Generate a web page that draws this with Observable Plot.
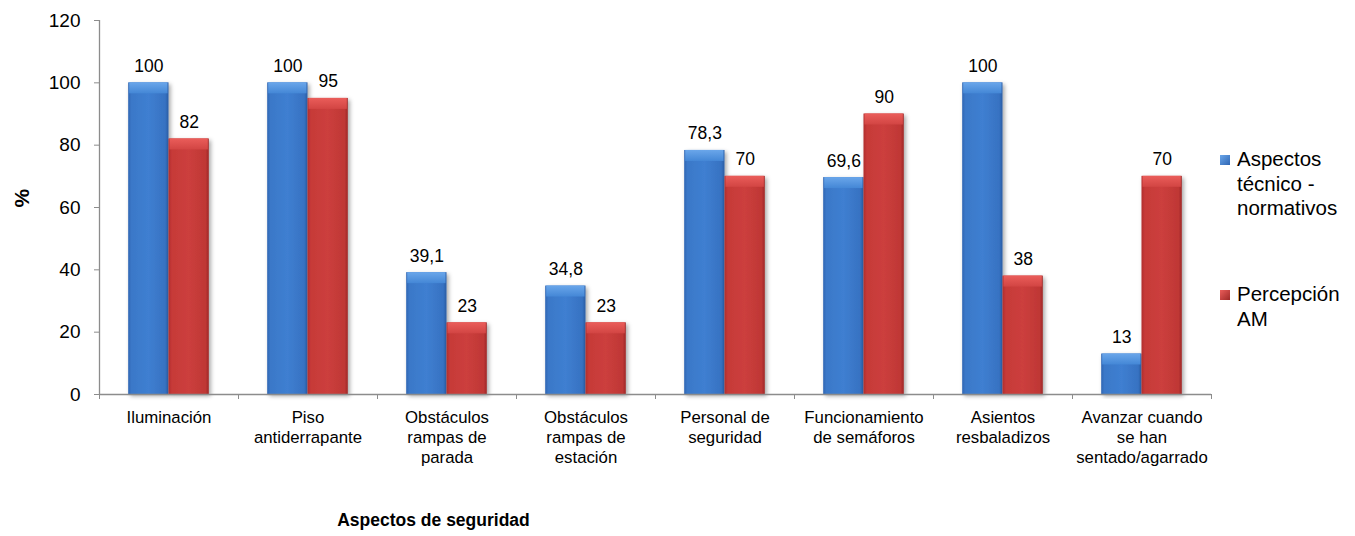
<!DOCTYPE html>
<html>
<head>
<meta charset="utf-8">
<script src="https://cdn.jsdelivr.net/npm/d3@7"></script>
<script src="https://cdn.jsdelivr.net/npm/@observablehq/plot@0.6"></script>
<style>
  html, body { margin: 0; padding: 0; background: #fff; }
  body { font-family: "Liberation Sans", Arial, sans-serif; }
  #wrap { position: relative; width: 1355px; height: 536px; overflow: hidden; }
  .legend { position: absolute; left: 1220px; font-size: 20.5px; line-height: 24.5px; color: #000; }
  .legend .sw { position: absolute; left: 0; width: 10px; height: 10px; }
  .legend .lt { position: absolute; left: 17px; white-space: nowrap; }
</style>
</head>
<body>
<div id="wrap"></div>
<script>
const categories = [
  "Iluminación",
  "Piso\nantiderrapante",
  "Obstáculos\nrampas de\nparada",
  "Obstáculos\nrampas de\nestación",
  "Personal de\nseguridad",
  "Funcionamiento\nde semáforos",
  "Asientos\nresbaladizos",
  "Avanzar cuando\nse han\nsentado/agarrado"
];
const seriesNames = ["Aspectos técnico - normativos", "Percepción AM"];
const tecnico = [100, 100, 39.1, 34.8, 78.3, 69.6, 100, 13];
const percepcion = [82, 95, 23, 23, 70, 90, 38, 70];
const yTicks = [0, 20, 40, 60, 80, 100, 120];

// bar placement inside each category slot (style)
const slot = [[0.21, 0.50], [0.50, 0.79]];
const data = [];
categories.forEach((c, i) => {
  data.push({cat: c, idx: i, s: 0, v: tecnico[i]});
  data.push({cat: c, idx: i, s: 1, v: percepcion[i]});
});
const fmt = v => String(v).replace(".", ",");

const defs = () => {
  const svg = d3.create("svg:defs");
  const mk = (id, stops, vertical) => {
    const g = svg.append("linearGradient").attr("id", id)
      .attr("x1", 0).attr("y1", 0).attr("x2", vertical ? 0 : 1).attr("y2", vertical ? 1 : 0);
    stops.forEach(([o, c]) => g.append("stop").attr("offset", o).attr("stop-color", c));
  };
  mk("gBlue", [[0, "#2f66b3"], [0.08, "#3a78c8"], [0.5, "#3f7fd1"], [0.92, "#3772c2"], [1, "#2a5ca3"]]);
  mk("gRed", [[0, "#b02e2c"], [0.08, "#c63a38"], [0.5, "#cc3f3d"], [0.92, "#bf3735"], [1, "#9e2927"]]);
  mk("gBlueTop", [[0, "#6aa6ea"], [1, "#4487d6"]], true);
  mk("gRedTop", [[0, "#ea5d5a"], [1, "#d24543"]], true);
  const f = svg.append("filter").attr("id", "shadow").attr("x", "-20%").attr("y", "-5%").attr("width", "150%").attr("height", "115%");
  f.append("feDropShadow").attr("dx", 2).attr("dy", 2).attr("stdDeviation", 2).attr("flood-color", "#000").attr("flood-opacity", 0.35);
  return svg.node();
};

const chart = Plot.plot({
  width: 1355,
  height: 536,
  marginLeft: 99,
  marginRight: 144,
  marginTop: 20,
  marginBottom: 142,
  style: {fontFamily: "'Liberation Sans', Arial, sans-serif", color: "#000", background: "#fff"},
  x: {type: "linear", domain: [0, categories.length]},
  y: {domain: [0, 120]},
  marks: [
    defs,
    Plot.rect(data, {
      x1: d => d.idx + slot[d.s][0],
      x2: d => d.idx + slot[d.s][1],
      y1: 0, y2: "v",
      fill: d => d.s === 0 ? "url(#gBlue)" : "url(#gRed)",
      className: "bars"
    }),
    Plot.rect(data, {
      x1: d => d.idx + slot[d.s][0],
      x2: d => d.idx + slot[d.s][1],
      y1: "v", y2: "v",
      insetBottom: -11,
      insetLeft: 1, insetRight: 1,
      fill: d => d.s === 0 ? "url(#gBlueTop)" : "url(#gRedTop)"
    }),
    Plot.ruleY([0], {stroke: "#8c8c8c", strokeWidth: 1.3}),
    Plot.ruleX([0], {y1: 0, y2: 120, stroke: "#8c8c8c", strokeWidth: 1.3}),
    Plot.axisY({ticks: yTicks, tickSize: 5, tickPadding: 14, fontSize: 19, stroke: "#8c8c8c", label: null, tickFormat: d => d}),
    Plot.axisX({ticks: d3.range(0, categories.length + 1), tickSize: 5, tickFormat: () => "", stroke: "#8c8c8c", label: null}),
    Plot.text(categories, {
      x: (d, i) => i + 0.5, y: 0, text: d => d,
      dy: 14, lineAnchor: "top", lineHeight: 1.2, fontSize: 16.8, fill: "#000"
    }),
    Plot.text(data, {
      x: d => d.idx + (slot[d.s][0] + slot[d.s][1]) / 2,
      y: "v", text: d => fmt(d.v),
      dy: -11, lineAnchor: "bottom", fontSize: 17.5, fill: "#000"
    }),
    Plot.text(["%"], {frameAnchor: "left", dx: -77, rotate: -90, fontSize: 21, fontWeight: "bold", fill: "#000"}),
    Plot.text(["Aspectos de seguridad"], {frameAnchor: "bottom-left", dx: 334, dy: 131, textAnchor: "middle", fontSize: 17.5, fontWeight: "bold", fill: "#000"})
  ]
});

d3.select(chart).selectAll("g.bars rect").attr("filter", "url(#shadow)");

const wrap = document.getElementById("wrap");
wrap.appendChild(chart);

const legend = document.createElement("div");
legend.className = "legend";
legend.style.top = "0px";
const items = [
  {lines: ["Aspectos", "técnico -", "normativos"], top: 147, color: "linear-gradient(135deg,#6aa6ea,#2f66b3)"},
  {lines: ["Percepción", "AM"], top: 282, color: "linear-gradient(135deg,#ea5d5a,#9e2927)"}
];
items.forEach((it, k) => {
  const sw = document.createElement("div");
  sw.className = "sw";
  sw.style.top = (it.top + 8) + "px";
  sw.style.background = it.color;
  sw.title = seriesNames[k];
  legend.appendChild(sw);
  const t = document.createElement("div");
  t.className = "lt";
  t.style.top = it.top + "px";
  t.innerHTML = it.lines.join("<br>");
  legend.appendChild(t);
});
wrap.appendChild(legend);
</script>
</body>
</html>
